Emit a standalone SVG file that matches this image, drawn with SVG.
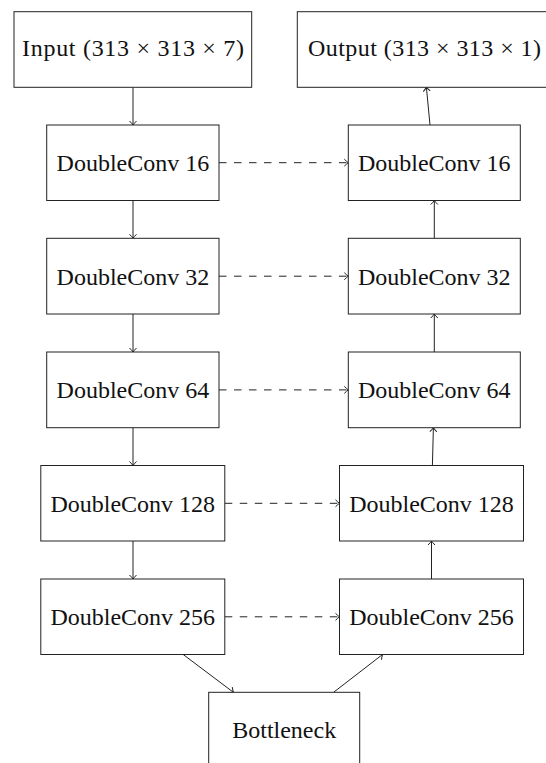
<svg xmlns="http://www.w3.org/2000/svg" width="546" height="763" viewBox="0 0 546 763">
<style>
  .box { fill: #fff; stroke: #222; stroke-width: 1; }
  .lbl { font-family: "Liberation Serif", "Times New Roman", serif; font-size: 24px; fill: #111; text-anchor: middle; }
  .edge { fill: none; stroke: #222; stroke-width: 1; marker-end: url(#arr); }
  .skip { stroke-dasharray: 7.5 7.5; }
</style>
<defs>
  <marker id="arr" markerWidth="7" markerHeight="10" viewBox="-6 -5 7 10" refX="0" refY="0" orient="auto" markerUnits="userSpaceOnUse">
    <path d="M-4,-3.5 Q-1.5,-1 0,0 Q-1.5,1 -4,3.5" fill="none" stroke="#222" stroke-width="1" stroke-dasharray="none"/>
  </marker>
</defs>
<rect width="546" height="763" fill="#fff"/>

<g id="connectors">
  <line class="edge" x1="133" y1="87.3" x2="133" y2="125"/>
  <line class="edge" x1="133" y1="200.5" x2="133" y2="238.3"/>
  <line class="edge" x1="133" y1="314" x2="133" y2="352"/>
  <line class="edge" x1="133" y1="427.7" x2="133" y2="465.5"/>
  <line class="edge" x1="133" y1="541" x2="133" y2="579"/>
  <line class="edge" x1="183.2" y1="654.5" x2="233.4" y2="692.3"/>
  <line class="edge" x1="333.6" y1="692.3" x2="382.5" y2="654.5"/>
  <line class="edge" x1="431.5" y1="579" x2="431.5" y2="541"/>
  <line class="edge" x1="432.4" y1="465.5" x2="433.4" y2="427.7"/>
  <line class="edge" x1="434.3" y1="352" x2="434.3" y2="314"/>
  <line class="edge" x1="434.3" y1="238.3" x2="434.3" y2="200.5"/>
  <line class="edge" x1="430" y1="125" x2="426.4" y2="87.3"/>
  <line class="edge skip" x1="219" y1="162.7" x2="348.3" y2="162.7"/>
  <line class="edge skip" x1="219" y1="276.2" x2="348.3" y2="276.2"/>
  <line class="edge skip" x1="219" y1="389.9" x2="348.3" y2="389.9"/>
  <line class="edge skip" x1="224.8" y1="503.3" x2="339.5" y2="503.3"/>
  <line class="edge skip" x1="224.8" y1="616.8" x2="339.5" y2="616.8"/>
</g>

<g id="input">
  <rect class="box" x="14" y="11.7" width="237.7" height="75.6"/>
  <text class="lbl" x="133" y="56" textLength="222">Input (313 × 313 × 7)</text>
</g>
<g id="output">
  <rect class="box" x="297.3" y="11.7" width="251" height="75.6"/>
  <text class="lbl" x="424.5" y="56" textLength="233">Output (313 × 313 × 1)</text>
</g>

<g id="down16">
  <rect class="box" x="46.7" y="125" width="172.3" height="75.5"/>
  <text class="lbl" x="132.9" y="171">DoubleConv 16</text>
</g>
<g id="down32">
  <rect class="box" x="46.7" y="238.3" width="172.3" height="75.7"/>
  <text class="lbl" x="132.9" y="284.5">DoubleConv 32</text>
</g>
<g id="down64">
  <rect class="box" x="46.7" y="352" width="172.3" height="75.7"/>
  <text class="lbl" x="132.9" y="398.2">DoubleConv 64</text>
</g>
<g id="down128">
  <rect class="box" x="40.8" y="465.5" width="184" height="75.5"/>
  <text class="lbl" x="132.8" y="511.6">DoubleConv 128</text>
</g>
<g id="down256">
  <rect class="box" x="40.8" y="579" width="184" height="75.5"/>
  <text class="lbl" x="132.8" y="625.1">DoubleConv 256</text>
</g>

<g id="up16">
  <rect class="box" x="348.3" y="125" width="172" height="75.5"/>
  <text class="lbl" x="434.3" y="171">DoubleConv 16</text>
</g>
<g id="up32">
  <rect class="box" x="348.3" y="238.3" width="172" height="75.7"/>
  <text class="lbl" x="434.3" y="284.5">DoubleConv 32</text>
</g>
<g id="up64">
  <rect class="box" x="348.3" y="352" width="172" height="75.7"/>
  <text class="lbl" x="434.3" y="398.2">DoubleConv 64</text>
</g>
<g id="up128">
  <rect class="box" x="339.5" y="465.5" width="184" height="75.5"/>
  <text class="lbl" x="431.5" y="511.6">DoubleConv 128</text>
</g>
<g id="up256">
  <rect class="box" x="339.5" y="579" width="184" height="75.5"/>
  <text class="lbl" x="431.5" y="625.1">DoubleConv 256</text>
</g>

<g id="bottleneck">
  <rect class="box" x="208.7" y="692.3" width="151" height="75.5"/>
  <text class="lbl" x="284.2" y="738.3">Bottleneck</text>
</g>
</svg>
